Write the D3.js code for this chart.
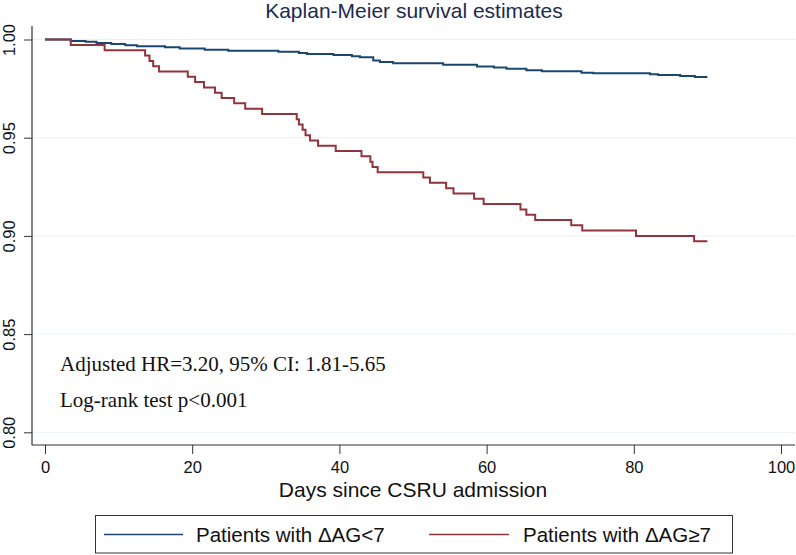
<!DOCTYPE html>
<html>
<head>
<meta charset="utf-8">
<script src="https://cdn.jsdelivr.net/npm/d3@7"></script>
<style>
  html, body { margin: 0; padding: 0; background: #ffffff; }
  svg { display: block; }
</style>
</head>
<body>
<svg id="chart" width="796" height="555"></svg>
<script>
// ---------------- DATA ----------------
const titleText = "Kaplan-Meier survival estimates";
const xAxisTitle = "Days since CSRU admission";
const xTicks = [0, 20, 40, 60, 80, 100];
const yTicks = [0.80, 0.85, 0.90, 0.95, 1.00];
const seriesNames = ["Patients with \u0394AG<7", "Patients with \u0394AG\u22657"];
const annotations = ["Adjusted HR=3.20, 95% CI: 1.81-5.65", "Log-rank test p<0.001"];

// Survival step points [day, survival] — ΔAG<7
const lowTimes = [0, 3.5, 5.5, 7.0, 9.0, 10.9, 12.5, 16.3, 18.3, 21.7, 24.9, 31.7, 34.5, 35.6, 39.2, 41.7, 42.8, 44.6, 45.5, 47.3, 54.1, 58.7, 61.0, 62.7, 65.4, 67.5, 72.9, 74.5, 82.2, 83.3, 86.3, 88.3, 90.0];
const lowSurv  = [1.0000, 0.9993, 0.9988, 0.9982, 0.9977, 0.9971, 0.9966, 0.9960, 0.9954, 0.9948, 0.9943, 0.9937, 0.9931, 0.9926, 0.9921, 0.9915, 0.9909, 0.9893, 0.9886, 0.9879, 0.9872, 0.9862, 0.9857, 0.9851, 0.9843, 0.9838, 0.9831, 0.9828, 0.9823, 0.9819, 0.9814, 0.9809, 0.9809];

// ΔAG≥7
const highTimes = [0, 3.5, 8.1, 13.6, 14.2, 14.7, 15.5, 19.4, 20.4, 21.6, 23.1, 24.0, 25.7, 27.2, 29.5, 34.2, 34.5, 35.0, 35.4, 36.0, 37.1, 39.5, 43.0, 44.2, 44.5, 45.2, 51.4, 52.3, 54.5, 55.5, 58.3, 59.6, 64.6, 65.4, 66.6, 71.5, 73.0, 80.3, 88.2, 90.0];
const highSurv  = [1.0000, 0.9972, 0.9945, 0.9918, 0.9891, 0.9864, 0.9837, 0.9810, 0.9783, 0.9756, 0.9729, 0.9702, 0.9675, 0.9648, 0.9621, 0.9594, 0.9567, 0.9540, 0.9513, 0.9486, 0.9459, 0.9432, 0.9405, 0.9378, 0.9351, 0.9324, 0.9297, 0.9270, 0.9243, 0.9216, 0.9189, 0.9162, 0.9135, 0.9108, 0.9081, 0.9054, 0.9027, 0.9000, 0.8973, 0.8973];

const seriesColors = ["#1a476f", "#90353b"];

// ---------------- LAYOUT ----------------
const W = 796, H = 555;
const plotLeft = 32, plotRight = 795, plotTop = 26, plotBottom = 445;
const sans = "'Liberation Sans', Arial, Helvetica, sans-serif";
const serif = "'Liberation Serif', 'Times New Roman', Times, serif";

const svg = d3.select("#chart");

const x = d3.scaleLinear().domain([0, 100]).range([45, 781]);
const y = d3.scaleLinear().domain([0.80, 1.00]).range([432.3, 39.5]);

// gridlines
svg.append("g")
  .selectAll("line")
  .data(yTicks)
  .join("line")
  .attr("x1", plotLeft).attr("x2", plotRight)
  .attr("y1", d => y(d)).attr("y2", d => y(d))
  .attr("stroke", "#eaf2f3")
  .attr("stroke-width", 1);

// Y axis
const yAxis = d3.axisLeft(y).tickValues(yTicks).tickFormat(d3.format(".2f")).tickSize(8).tickSizeOuter(0);
const gy = svg.append("g").attr("transform", `translate(${plotLeft},0)`).call(yAxis);
gy.select(".domain").remove();
gy.selectAll(".tick line").attr("stroke", "#333").attr("stroke-width", 1);
gy.selectAll(".tick text")
  .attr("font-family", sans)
  .attr("font-size", "16.5px")
  .attr("fill", "#111")
  .attr("text-anchor", "middle")
  .attr("dy", null)
  .attr("x", null)
  .attr("transform", `translate(${15 - plotLeft},0) rotate(-90)`);

// X axis
const xAxis = d3.axisBottom(x).tickValues(xTicks).tickFormat(d3.format("d")).tickSize(9).tickSizeOuter(0);
const gx = svg.append("g").attr("transform", `translate(0,${plotBottom})`).call(xAxis);
gx.select(".domain").remove();
gx.selectAll(".tick line").attr("stroke", "#333").attr("stroke-width", 1);
gx.selectAll(".tick text")
  .attr("font-family", sans)
  .attr("font-size", "16.5px")
  .attr("fill", "#111")
  .attr("dy", null)
  .attr("y", 28);

// axis lines
svg.append("line")
  .attr("x1", plotLeft).attr("x2", plotLeft)
  .attr("y1", plotTop).attr("y2", plotBottom)
  .attr("stroke", "#333").attr("stroke-width", 1.2);
svg.append("line")
  .attr("x1", plotLeft).attr("x2", plotRight)
  .attr("y1", plotBottom).attr("y2", plotBottom)
  .attr("stroke", "#333").attr("stroke-width", 1.2);

// curves
const line = d3.line()
  .x(d => x(d[0]))
  .y(d => y(d[1]))
  .curve(d3.curveStepAfter);

const series = [
  d3.zip(lowTimes, lowSurv),
  d3.zip(highTimes, highSurv)
];

svg.append("g")
  .selectAll("path")
  .data(series)
  .join("path")
  .attr("d", d => line(d))
  .attr("fill", "none")
  .attr("stroke", (d, i) => seriesColors[i])
  .attr("stroke-width", 2)
  .attr("stroke-linejoin", "miter");

// annotations
svg.append("g")
  .selectAll("text")
  .data(annotations)
  .join("text")
  .attr("x", 60)
  .attr("y", (d, i) => 370.5 + i * 36.5)
  .attr("font-family", serif)
  .attr("font-size", "21px")
  .attr("fill", "#111")
  .text(d => d);

// title
svg.append("text")
  .attr("x", 414).attr("y", 17.5)
  .attr("text-anchor", "middle")
  .attr("font-family", sans)
  .attr("font-size", "21px")
  .attr("fill", "#1c2b4e")
  .text(titleText);

// x axis title
svg.append("text")
  .attr("x", 413).attr("y", 496.5)
  .attr("text-anchor", "middle")
  .attr("font-family", sans)
  .attr("font-size", "21px")
  .attr("fill", "#111")
  .text(xAxisTitle);

// legend
const legend = svg.append("g");
legend.append("rect")
  .attr("x", 95.5).attr("y", 515.5)
  .attr("width", 637).attr("height", 37.5)
  .attr("fill", "#fff")
  .attr("stroke", "#333").attr("stroke-width", 1);

const legendItems = [
  { lx1: 104, lx2: 183, tx: 196 },
  { lx1: 429, lx2: 509, tx: 523 }
];
legendItems.forEach((it, i) => {
  legend.append("line")
    .attr("x1", it.lx1).attr("x2", it.lx2)
    .attr("y1", 534.5).attr("y2", 534.5)
    .attr("stroke", seriesColors[i]).attr("stroke-width", 1.5);
  legend.append("text")
    .attr("x", it.tx).attr("y", 541.5)
    .attr("font-family", sans)
    .attr("font-size", "20.5px")
    .attr("fill", "#111")
    .text(seriesNames[i]);
});
</script>
</body>
</html>
